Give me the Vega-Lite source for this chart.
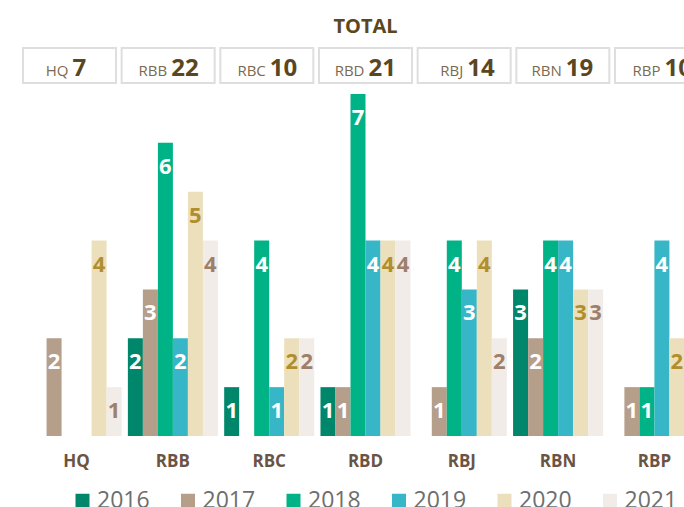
{
  "$schema": "https://vega.github.io/schema/vega-lite/v6.json",
  "background": "white",
  "padding": {"left": 22, "top": 17, "right": 0, "bottom": 0},
  "title": {"text": "TOTAL", "font": "Open Sans", "fontSize": 20, "fontWeight": "bold", "color": "#5a4722", "anchor": "middle", "offset": 10},
  "config": {"view": {"stroke": null}, "font": "Open Sans"},
  "spacing": 10,
  "resolve": {"legend": {"color": "independent"}},
  "datasets": {
    "totals": [
      {"office": "HQ", "total": 7},
      {"office": "RBB", "total": 22},
      {"office": "RBC", "total": 10},
      {"office": "RBD", "total": 21},
      {"office": "RBJ", "total": 14},
      {"office": "RBN", "total": 19},
      {"office": "RBP", "total": 10}
    ],
    "counts": [
      {"office": "HQ", "year": "2017", "value": 2},
      {"office": "HQ", "year": "2020", "value": 4},
      {"office": "HQ", "year": "2021", "value": 1},
      {"office": "RBB", "year": "2016", "value": 2},
      {"office": "RBB", "year": "2017", "value": 3},
      {"office": "RBB", "year": "2018", "value": 6},
      {"office": "RBB", "year": "2019", "value": 2},
      {"office": "RBB", "year": "2020", "value": 5},
      {"office": "RBB", "year": "2021", "value": 4},
      {"office": "RBC", "year": "2016", "value": 1},
      {"office": "RBC", "year": "2018", "value": 4},
      {"office": "RBC", "year": "2019", "value": 1},
      {"office": "RBC", "year": "2020", "value": 2},
      {"office": "RBC", "year": "2021", "value": 2},
      {"office": "RBD", "year": "2016", "value": 1},
      {"office": "RBD", "year": "2017", "value": 1},
      {"office": "RBD", "year": "2018", "value": 7},
      {"office": "RBD", "year": "2019", "value": 4},
      {"office": "RBD", "year": "2020", "value": 4},
      {"office": "RBD", "year": "2021", "value": 4},
      {"office": "RBJ", "year": "2017", "value": 1},
      {"office": "RBJ", "year": "2018", "value": 4},
      {"office": "RBJ", "year": "2019", "value": 3},
      {"office": "RBJ", "year": "2020", "value": 4},
      {"office": "RBJ", "year": "2021", "value": 2},
      {"office": "RBN", "year": "2016", "value": 3},
      {"office": "RBN", "year": "2017", "value": 2},
      {"office": "RBN", "year": "2018", "value": 4},
      {"office": "RBN", "year": "2019", "value": 4},
      {"office": "RBN", "year": "2020", "value": 3},
      {"office": "RBN", "year": "2021", "value": 3},
      {"office": "RBP", "year": "2017", "value": 1},
      {"office": "RBP", "year": "2018", "value": 1},
      {"office": "RBP", "year": "2019", "value": 4},
      {"office": "RBP", "year": "2020", "value": 2},
      {"office": "RBP", "year": "2021", "value": 2}
    ]
  },
  "vconcat": [
    {
      "data": {"name": "totals"},
      "width": 685,
      "height": 35,
      "encoding": {
        "x": {"field": "office", "type": "nominal", "sort": ["HQ", "RBB", "RBC", "RBD", "RBJ", "RBN", "RBP"], "scale": {"paddingInner": 0.0575, "paddingOuter": 0}, "axis": null}
      },
      "layer": [
        {"mark": {"type": "bar", "fill": "white", "stroke": "#dedede", "strokeWidth": 2}},
        {"mark": {"type": "text", "align": "right", "baseline": "alphabetic", "dx": -1, "dy": 10, "fontSize": 15, "color": "#7b6a50"},
         "encoding": {"text": {"field": "office"}}},
        {"mark": {"type": "text", "align": "left", "baseline": "alphabetic", "dx": 3, "dy": 10, "fontSize": 24, "fontWeight": "bold", "color": "#5a4722"},
         "encoding": {"text": {"field": "total"}}}
      ]
    },
    {
      "data": {"name": "counts"},
      "width": 685,
      "height": 342,
      "encoding": {
        "x": {"field": "office", "type": "nominal", "sort": ["HQ", "RBB", "RBC", "RBD", "RBJ", "RBN", "RBP"], "scale": {"paddingInner": 0.065, "paddingOuter": 0.089},
              "axis": {"title": null, "domain": false, "ticks": false, "labelPadding": 17, "labelFontSize": 17, "labelFontWeight": "bold", "labelColor": "#6a5444", "labelAngle": 0}},
        "xOffset": {"field": "year", "type": "nominal", "scale": {"domain": ["2016", "2017", "2018", "2019", "2020", "2021"], "paddingInner": 0, "paddingOuter": 0}},
        "y": {"field": "value", "type": "quantitative", "scale": {"domain": [0, 7], "nice": false}, "axis": null}
      },
      "layer": [
        {"mark": {"type": "bar"},
         "encoding": {
           "color": {"field": "year", "type": "nominal",
                     "scale": {"domain": ["2016", "2017", "2018", "2019", "2020", "2021"], "range": ["#00876b", "#b59e8a", "#00b386", "#36b6c6", "#ecdfbb", "#f1ece8"]},
                     "legend": {"title": null, "orient": "none", "legendX": 48, "legendY": 395, "direction": "horizontal", "symbolType": "square", "symbolSize": 196, "symbolStrokeWidth": 0, "symbolOpacity": 1, "labelFontSize": 23, "labelColor": "#6e6e6e", "labelOffset": 3, "columnPadding": 26.5, "padding": 0}}
         }},
        {"mark": {"type": "text", "baseline": "middle", "dy": 24, "fontSize": 22, "fontWeight": "bold"},
         "encoding": {
           "text": {"field": "value"},
           "color": {"condition": [{"test": "datum.year === '2020'", "value": "#b08e2e"}, {"test": "datum.year === '2021'", "value": "#9d7f6a"}], "value": "white"}
         }}
      ]
    }
  ]
}
